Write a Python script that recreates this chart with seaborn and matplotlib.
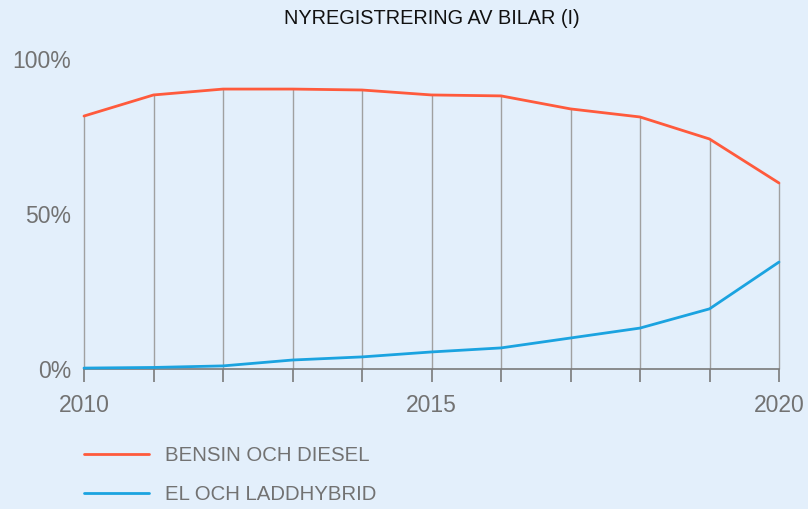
import pandas as pd
import matplotlib.pyplot as plt
import seaborn as sns

# Data (share of new car registrations, %)
years = [2010, 2011, 2012, 2013, 2014, 2015, 2016, 2017, 2018, 2019, 2020]
bensin_diesel = [81.6, 88.4, 90.3, 90.3, 90.0, 88.4, 88.1, 83.9, 81.3, 74.2, 60.0]
el_laddhybrid = [0.3, 0.5, 1.0, 2.9, 3.9, 5.5, 6.8, 10.0, 13.2, 19.4, 34.5]
series_names = ["BENSIN OCH DIESEL", "EL OCH LADDHYBRID"]
x_ticks = [2010, 2015, 2020]
y_ticks = [0, 50, 100]
y_tick_labels = ["0%", "50%", "100%"]
title = "NYREGISTRERING AV BILAR (I)"

df = pd.DataFrame({
    "year": years * 2,
    "share": bensin_diesel + el_laddhybrid,
    "series": [series_names[0]] * len(years) + [series_names[1]] * len(years),
})

bg = "#e3effb"
grey = "#727272"

sns.set_theme(style="white")
plt.rcParams["font.family"] = ["Liberation Sans", "DejaVu Sans"]

fig = plt.figure(figsize=(8.08, 5.09), dpi=100, facecolor=bg)
ax = fig.add_axes([84 / 808, 1 - 369 / 509, (779 - 84) / 808, (369 - 59) / 509])
ax.set_facecolor(bg)

# vertical guides from zero up to the top line, one per year
ax.vlines(years, 0, bensin_diesel, color="#a0a0a0", lw=1.0, zorder=1,
          clip_on=False)

sns.lineplot(data=df, x="year", y="share", hue="series",
             palette=["#ff5a3c", "#1ba3e0"], linewidth=2.0, ax=ax,
             zorder=3, clip_on=False)

ax.set_xlim(2010, 2020)
ax.set_ylim(0, 100)
ax.set_xlabel("")
ax.set_ylabel("")

ax.set_xticks(years)
ax.set_xticklabels([str(y) if y in x_ticks else "" for y in years])
ax.set_yticks(y_ticks)
ax.set_yticklabels(y_tick_labels)

for side in ["top", "right", "left"]:
    ax.spines[side].set_visible(False)
ax.spines["bottom"].set_color("#7a7a7a")
ax.spines["bottom"].set_linewidth(1.2)
ax.spines["bottom"].set_zorder(2)

ax.tick_params(axis="x", bottom=True, length=9, width=1.2, color="#7a7a7a",
               labelsize=16.5, labelcolor=grey, pad=9)
ax.tick_params(axis="y", left=False, length=0, labelsize=16.5,
               labelcolor=grey, pad=9)

handles, labels = ax.get_legend_handles_labels()
ax.get_legend().remove()
for h in handles:
    h.set_linewidth(2.0)
fig.legend(handles, labels, loc="upper left",
           bbox_to_anchor=(84 / 808, 1 - 446 / 509), frameon=False,
           fontsize=14.7, labelcolor=grey, handlelength=3.2, handletextpad=0.75,
           labelspacing=1.0, borderpad=0, borderaxespad=0)

fig.text(431.5 / 808, 1 - 18 / 509, title, ha="center", va="center",
         fontsize=14.3, color="#111111")

fig.savefig("out.png", dpi=100, facecolor=bg)
